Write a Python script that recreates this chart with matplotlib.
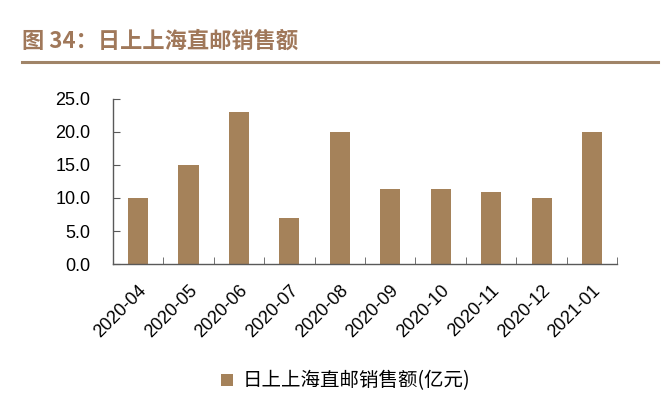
import matplotlib.pyplot as plt
from matplotlib.lines import Line2D

plt.rcParams['font.family'] = ['Noto Sans CJK SC', 'DejaVu Sans']

months = ['2020-04', '2020-05', '2020-06', '2020-07', '2020-08',
          '2020-09', '2020-10', '2020-11', '2020-12', '2021-01']
sales = [10.0, 15.0, 23.0, 7.0, 20.0, 11.4, 11.4, 10.9, 10.0, 20.0]
y_ticks = [0, 5, 10, 15, 20, 25]
title = '图 34：日上上海直邮销售额'
series_name = '日上上海直邮销售额(亿元)'

bar_color = '#A5825A'
title_color = '#A0785A'
axis_color = '#595959'
num_font = ['Liberation Sans', 'DejaVu Sans']

fig = plt.figure(figsize=(6.71, 3.99), dpi=100)
ax = fig.add_axes([0.168, 0.338, 0.752, 0.415])

x = list(range(len(months)))
ax.bar(x, sales, width=0.4, color=bar_color, label=series_name)

ax.set_xlim(-0.5, len(months) - 0.5)
ax.set_ylim(0, 25)
ax.set_yticks(y_ticks)
ax.set_yticklabels([f'{v:.1f}' for v in y_ticks], fontsize=13,
                   family=num_font)

ax.set_xticks(x)
ax.set_xticklabels(months, rotation=45, ha='right', rotation_mode='anchor',
                   fontsize=13, family=num_font)
ax.tick_params(axis='x', length=0, pad=13)
ax.set_xticks([i + 0.5 for i in range(-1, len(months))], minor=True)
ax.tick_params(axis='x', which='minor', direction='in', length=5,
               color=axis_color)
ax.tick_params(axis='y', direction='in', length=5, color=axis_color, pad=16)

for side in ['top', 'right']:
    ax.spines[side].set_visible(False)
for side in ['left', 'bottom']:
    ax.spines[side].set_color(axis_color)
    ax.spines[side].set_linewidth(1.0)

fig.legend(loc='center', bbox_to_anchor=(0.515, 0.045), frameon=False,
           fontsize=14, handlelength=0.6, handleheight=0.6,
           handletextpad=0.5)

fig.text(0.033, 0.897, title, fontsize=16, fontweight='bold',
         color=title_color, va='center')
fig.add_artist(Line2D([0.033, 0.981], [0.845, 0.845], color='#A08468',
                      linewidth=2.2, transform=fig.transFigure))

fig.savefig('out.png', dpi=100)
